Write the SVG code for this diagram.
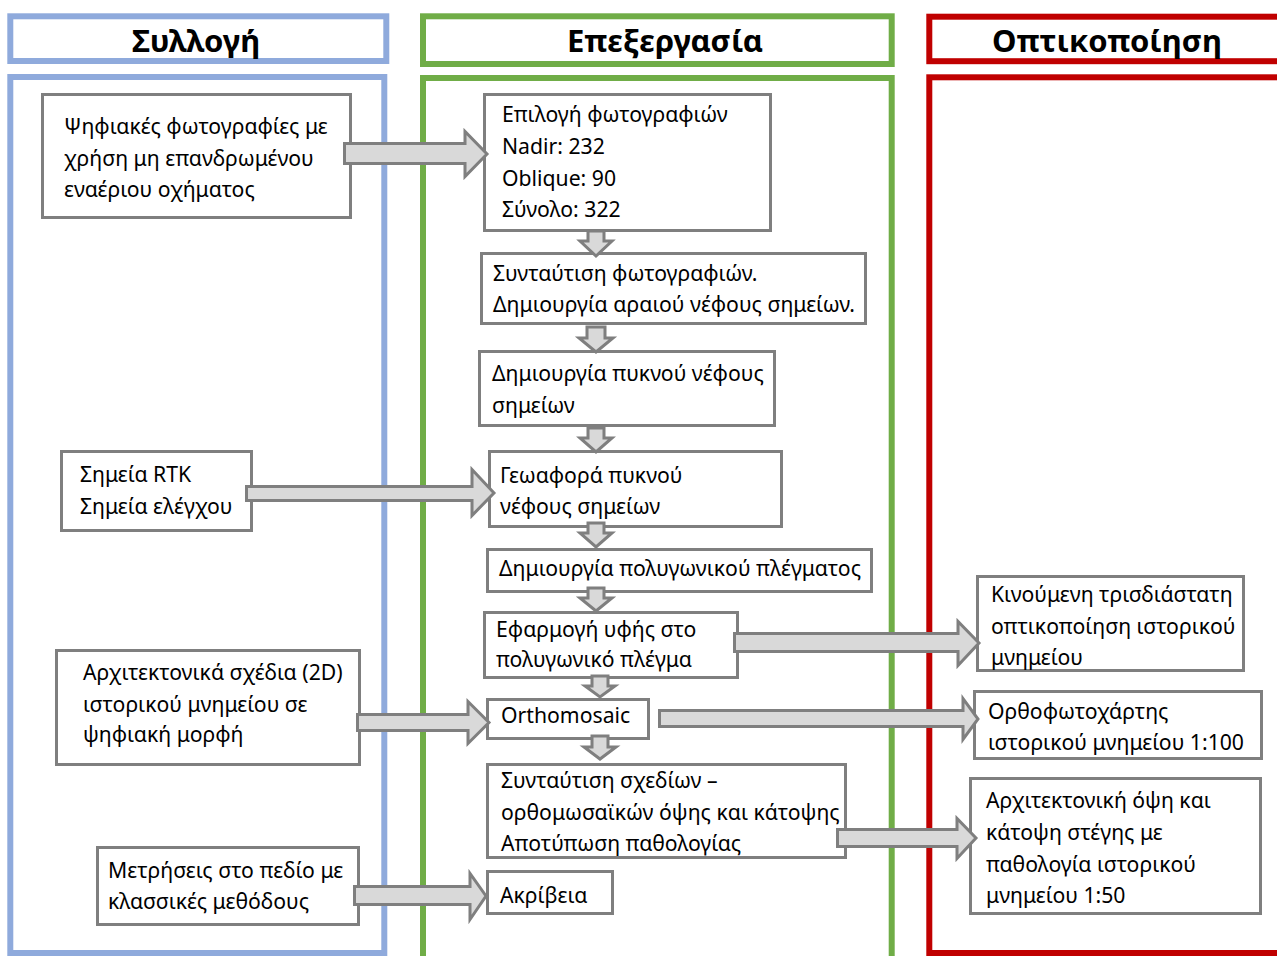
<svg xmlns="http://www.w3.org/2000/svg" width="1277" height="956" viewBox="0 0 1277 956">
<style>
.bg{fill:#ffffff}
.fb{fill:none;stroke:#8faadc;stroke-width:6}
.fg{fill:none;stroke:#70ad47;stroke-width:6}
.fr{fill:none;stroke:#c00000;stroke-width:6}
.hd{font-family:"Noto Sans","Open Sans",sans-serif;font-weight:bold;font-size:31px;fill:#000;text-anchor:middle}
.box{fill:#ffffff;stroke:#7f7f7f;stroke-width:3}
.t{font-family:"Noto Sans","Open Sans",sans-serif;font-size:21.2px;fill:#000}
.ar{fill:#d9d9d9;stroke:#7f7f7f;stroke-width:3;stroke-linejoin:miter}
</style>
<rect class="bg" x="0" y="0" width="1277" height="956"/>
<g id="lanes">
  <g id="lane-syllogi">
    <rect class="fb" x="10.3" y="16.3" width="376" height="44.7"/>
    <text class="hd" x="196" y="52">Συλλογή</text>
    <rect class="fb" x="10.3" y="77" width="374" height="876"/>
  </g>
  <g id="lane-epexergasia">
    <rect class="fg" x="423" y="16.3" width="468.7" height="47.7"/>
    <text class="hd" x="665" y="52">Επεξεργασία</text>
    <rect class="fg" x="423" y="78" width="468.7" height="890"/>
  </g>
  <g id="lane-optikopoiisi">
    <rect class="fr" x="929.3" y="16.7" width="400" height="44.5"/>
    <text class="hd" x="1107" y="52">Οπτικοποίηση</text>
    <rect class="fr" x="929.3" y="77.3" width="400" height="875.7"/>
  </g>
</g>
<g id="nodes">
  <g id="n-photos">
    <rect class="box" x="42.5" y="94.5" width="308" height="123"/>
    <text class="t" x="64" y="134">Ψηφιακές φωτογραφίες με</text>
    <text class="t" x="64" y="166">χρήση μη επανδρωμένου</text>
    <text class="t" x="64" y="197">εναέριου οχήματος</text>
  </g>
  <g id="n-select">
    <rect class="box" x="484.5" y="94.5" width="286" height="136"/>
    <text class="t" x="502" y="122">Επιλογή φωτογραφιών</text>
    <text class="t" x="502" y="154">Nadir: 232</text>
    <text class="t" x="502" y="186">Oblique: 90</text>
    <text class="t" x="502" y="217">Σύνολο: 322</text>
  </g>
  <g id="n-align">
    <rect class="box" x="481.5" y="253.5" width="384" height="70"/>
    <text class="t" x="493" y="281">Συνταύτιση φωτογραφιών.</text>
    <text class="t" x="493" y="312">Δημιουργία αραιού νέφους σημείων.</text>
  </g>
  <g id="n-dense">
    <rect class="box" x="479.5" y="351.5" width="295" height="74"/>
    <text class="t" x="492" y="381">Δημιουργία πυκνού νέφους</text>
    <text class="t" x="492" y="413">σημείων</text>
  </g>
  <g id="n-rtk">
    <rect class="box" x="61.5" y="451.5" width="190" height="79"/>
    <text class="t" x="80" y="482">Σημεία RTK</text>
    <text class="t" x="80" y="514">Σημεία ελέγχου</text>
  </g>
  <g id="n-georef">
    <rect class="box" x="489.5" y="451.5" width="292" height="75"/>
    <text class="t" x="500" y="483">Γεωαφορά πυκνού</text>
    <text class="t" x="500" y="514">νέφους σημείων</text>
  </g>
  <g id="n-mesh">
    <rect class="box" x="487.5" y="549.5" width="384" height="42"/>
    <text class="t" x="499" y="576">Δημιουργία πολυγωνικού πλέγματος</text>
  </g>
  <g id="n-texture">
    <rect class="box" x="484.5" y="612.5" width="253" height="65"/>
    <text class="t" x="496" y="637">Εφαρμογή υφής στο</text>
    <text class="t" x="496" y="667">πολυγωνικό πλέγμα</text>
  </g>
  <g id="n-3dvis">
    <rect class="box" x="977.5" y="576.5" width="266" height="94"/>
    <text class="t" x="991" y="602">Κινούμενη τρισδιάστατη</text>
    <text class="t" x="991" y="634">οπτικοποίηση ιστορικού</text>
    <text class="t" x="991" y="665">μνημείου</text>
  </g>
  <g id="n-drawings">
    <rect class="box" x="56.5" y="650.5" width="303" height="114"/>
    <text class="t" x="83" y="680">Αρχιτεκτονικά σχέδια (2D)</text>
    <text class="t" x="83" y="712">ιστορικού μνημείου σε</text>
    <text class="t" x="83" y="742">ψηφιακή μορφή</text>
  </g>
  <g id="n-ortho">
    <rect class="box" x="487.5" y="699.5" width="161" height="39"/>
    <text class="t" x="501" y="723">Orthomosaic</text>
  </g>
  <g id="n-orthomap">
    <rect class="box" x="974.5" y="691.5" width="287" height="67"/>
    <text class="t" x="988" y="719">Ορθοφωτοχάρτης</text>
    <text class="t" x="988" y="750">ιστορικού μνημείου 1:100</text>
  </g>
  <g id="n-compose">
    <rect class="box" x="487.5" y="764.5" width="358" height="93"/>
    <text class="t" x="501" y="788">Συνταύτιση σχεδίων –</text>
    <text class="t" x="501" y="820">ορθομωσαϊκών όψης και κάτοψης</text>
    <text class="t" x="501" y="851">Αποτύπωση παθολογίας</text>
  </g>
  <g id="n-arch">
    <rect class="box" x="970.5" y="778.5" width="290" height="135"/>
    <text class="t" x="986" y="808">Αρχιτεκτονική όψη και</text>
    <text class="t" x="986" y="840">κάτοψη στέγης με</text>
    <text class="t" x="986" y="872">παθολογία ιστορικού</text>
    <text class="t" x="986" y="903">μνημείου 1:50</text>
  </g>
  <g id="n-measure">
    <rect class="box" x="97.5" y="847.5" width="261" height="77"/>
    <text class="t" x="108" y="878">Μετρήσεις στο πεδίο με</text>
    <text class="t" x="108" y="909">κλασσικές μεθόδους</text>
  </g>
  <g id="n-accuracy">
    <rect class="box" x="487.5" y="871.5" width="125" height="42"/>
    <text class="t" x="500" y="903">Ακρίβεια</text>
  </g>
</g>
<g id="connectors">
  <polygon class="ar" points="344.5,143.5 465,143.5 465,131.5 487,154 465,176.5 465,163.5 344.5,163.5"/>
  <polygon class="ar" points="246.5,486.5 472,486.5 472,469.5 494,493 472,515.5 472,500.5 246.5,500.5"/>
  <polygon class="ar" points="357.5,714.5 468,714.5 468,701.5 489,722.5 468,743.5 468,730.5 357.5,730.5"/>
  <polygon class="ar" points="354.5,886.5 470,886.5 470,873.5 486,896 470,919.5 470,904.5 354.5,904.5"/>
  <polygon class="ar" points="734.5,633.5 958,633.5 958,621.5 979,643 958,665.5 958,651.5 734.5,651.5"/>
  <polygon class="ar" points="659.5,710.5 963,710.5 963,698.5 978,719 963,739.5 963,726.5 659.5,726.5"/>
  <polygon class="ar" points="837.5,829.5 957,829.5 957,818.5 976,838 957,858.5 957,846.5 837.5,846.5"/>
  <polygon class="ar" points="588,231 604,231 604,241 612,241 596,256 580,241 588,241"/>
  <polygon class="ar" points="587,327 605,327 605,338 613,338 596,352 579,338 587,338"/>
  <polygon class="ar" points="588,428 604,428 604,438 612,438 596,452 580,438 588,438"/>
  <polygon class="ar" points="588,523 604,523 604,533 612,533 596,547 580,533 588,533"/>
  <polygon class="ar" points="588,588 604,588 604,598 612,598 596,611 580,598 588,598"/>
  <polygon class="ar" points="592,676 608,676 608,686 615,686 600,697 585,686 592,686"/>
  <polygon class="ar" points="592,736 608,736 608,747 616,747 600,759 584,747 592,747"/>
</g>
</svg>
